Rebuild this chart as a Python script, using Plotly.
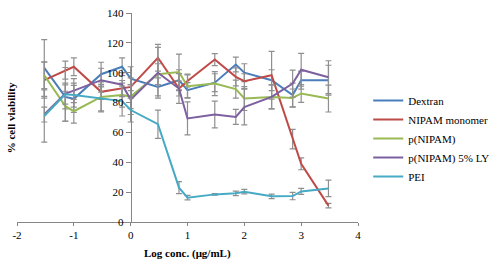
import plotly.graph_objects as go

log_conc = [-1.52, -1.15, -1.0, -0.52, -0.15, 0.0, 0.48, 0.85, 1.0, 1.48, 1.85, 2.0, 2.48, 2.85, 3.0, 3.48]

dextran = [103.2, 83.8, 82.5, 99, 104, 96, 90.5, 95, 88.3, 93.3, 105.5, 100, 95, 85, 95, 95]
dextran_err = [19, 8, 9, 8, 6, 8, 6, 7, 5, 6, 5, 6, 7, 8, 6, 10]

nipam = [95, 101.7, 104, 87.2, 89.8, 90.5, 110, 89.4, 94.5, 108.8, 97.2, 94.3, 98.3, 55.5, 39, 11]
nipam_err = [12, 6, 6, 5, 5, 6, 9, 5, 4, 4, 6, 5, 16, 6.5, 4, 1.5]

pnipam = [98.3, 77.6, 74.2, 83.8, 85, 84, 99, 100.5, 91, 92.7, 89, 82.7, 83.8, 83.1, 86.1, 82.7]
pnipam_err = [9, 10, 8, 10, 8, 8, 7, 12, 8, 8, 6, 8, 8, 6, 6, 9]

pnipam_ly = [72, 86, 88, 95, 92, 82, 100, 89.4, 69.4, 72, 70.4, 77, 83.8, 92.7, 102, 97]
pnipam_ly_err = [5, 7, 8, 8, 8, 10, 17, 10, 11, 9, 5, 12, 8, 9, 11, 11]

pei = [71, 85.5, 85, 82.5, 81, 75, 65.5, 23, 16.3, 18.5, 19.2, 20.3, 17.2, 17.4, 20.5, 22.5]
pei_err = [17.5, 18, 8, 8, 10, 8, 9.5, 4, 1.5, 0.5, 1.5, 1.5, 1.5, 2.5, 2, 5.5]

names = ["Dextran", "NIPAM monomer", "p(NIPAM)", "p(NIPAM) 5% LY", "PEI"]
series = [dextran, nipam, pnipam, pnipam_ly, pei]
errors = [dextran_err, nipam_err, pnipam_err, pnipam_ly_err, pei_err]
colors = ["#4A7EBB", "#BE4B48", "#98B954", "#7D60A0", "#46AAC5"]

x_ticks = [-2, -1, 0, 1, 2, 3, 4]
x_ticktext = ["-2", "-1", "0", "1", "2", "3", "4"]

serif = "Liberation Serif"

fig = go.Figure()
for name, ys, err, col in zip(names, series, errors, colors):
    fig.add_trace(go.Scatter(
        x=log_conc, y=ys, name=name, mode="lines",
        line=dict(color=col, width=2),
        error_y=dict(type="data", array=err, visible=True,
                     color="#8f8f8f", thickness=1.2, width=3),
    ))

fig.update_layout(
    width=500, height=264,
    margin=dict(l=17, r=142, t=13, b=42, autoexpand=False),
    paper_bgcolor="white", plot_bgcolor="white",
    font=dict(family=serif, size=11, color="#000000"),
    showlegend=True,
    legend=dict(x=1.03, y=0.40, xanchor="left", yanchor="middle",
                font=dict(family=serif, size=11, color="#000"),
                itemwidth=30, bgcolor="rgba(0,0,0,0)"),
    xaxis=dict(range=[-2, 4], tickvals=x_ticks, ticktext=x_ticktext,
               showgrid=False, zeroline=False,
               showline=True, linecolor="#868686", linewidth=1,
               ticks="outside", ticklen=3, tickcolor="#868686",
               tickfont=dict(family=serif, size=11)),
    yaxis=dict(range=[0, 140], dtick=20, showgrid=False, zeroline=False,
               showline=True, linecolor="#868686", linewidth=1,
               ticks="outside", ticklen=5, tickcolor="#868686",
               anchor="free", position=1/3,
               tickfont=dict(family=serif, size=11)),
    annotations=[
        dict(text="<b>Log conc. (μg/mL)</b>", xref="paper", yref="paper",
             x=0.5, y=-0.153, xanchor="center", yanchor="middle", showarrow=False,
             font=dict(family=serif, size=11)),
        dict(text="<b>% cell viability</b>", xref="paper", yref="paper",
             x=-0.018, y=0.5, xanchor="center", yanchor="middle", showarrow=False,
             textangle=-90, font=dict(family=serif, size=11)),
    ],
)

fig.write_html("out.html", config={"displayModeBar": False},
               post_script="document.body.style.margin='0';document.body.style.padding='0';")
